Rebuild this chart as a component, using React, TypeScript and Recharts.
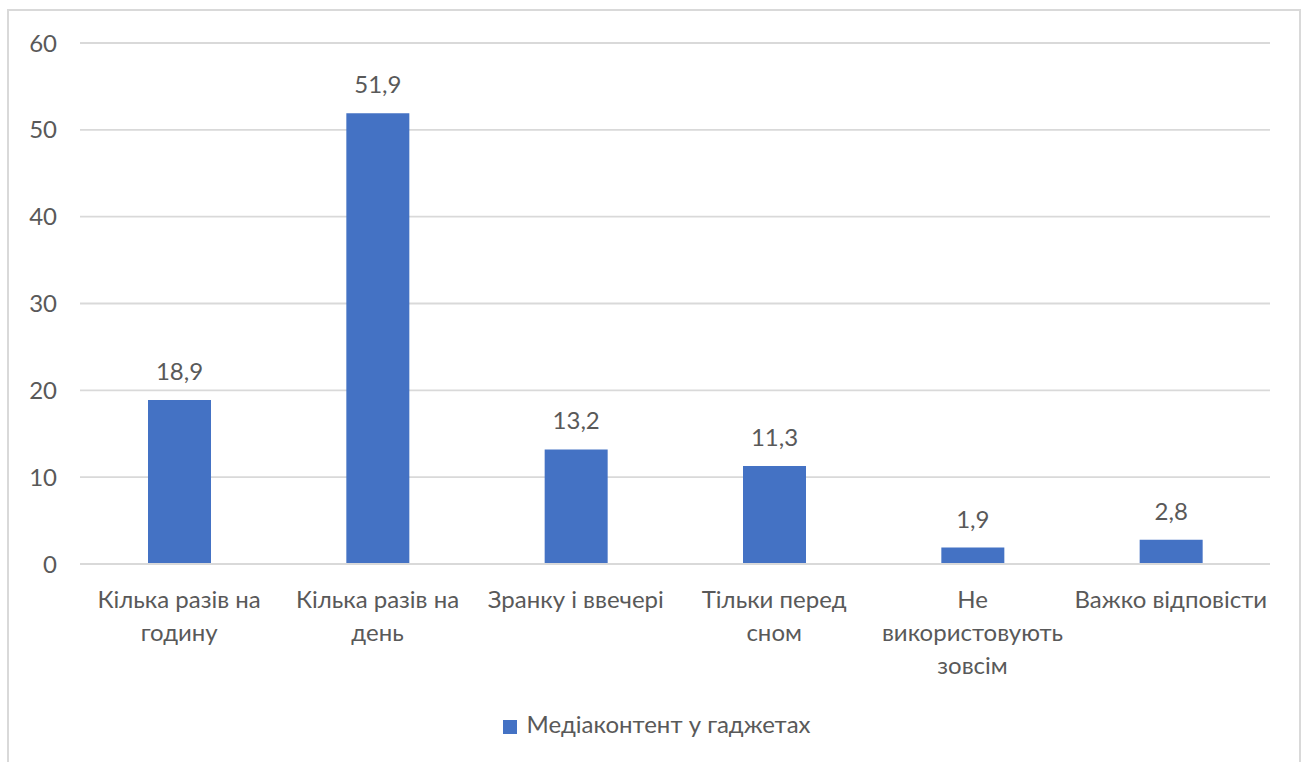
import React from 'react';
import { BarChart, Bar, XAxis, YAxis, CartesianGrid, Legend, LabelList } from 'recharts';

const categories = [
  'Кілька разів на\nгодину',
  'Кілька разів на\nдень',
  'Зранку і ввечері',
  'Тільки перед\nсном',
  'Не\nвикористовують\nзовсім',
  'Важко відповісти',
];
const values = [18.9, 51.9, 13.2, 11.3, 1.9, 2.8];
const yTicks = [0, 10, 20, 30, 40, 50, 60];
const seriesName = 'Медіаконтент у гаджетах';

const data = categories.map((c, i) => ({ name: c, value: values[i] }));

const FONT = 'Lato, "Open Sans", sans-serif';
const TEXT = '#595959';
const SIZE = 24;

const YTick = (props: any) => {
  const { x, y, payload } = props;
  return (
    <text x={x - 3} y={y} dy={8.5} textAnchor="end" fill={TEXT} fontSize={SIZE} fontFamily={FONT}>
      {payload.value}
    </text>
  );
};

const XTick = (props: any) => {
  const { x, y, payload } = props;
  const lines = String(payload.value).split('\n');
  return (
    <text x={x} y={y} textAnchor="middle" fill={TEXT} fontSize={SIZE} fontFamily={FONT}>
      {lines.map((l, i) => (
        <tspan key={i} x={x} dy={i === 0 ? 36 : 33}>
          {l}
        </tspan>
      ))}
    </text>
  );
};

export default function App() {
  return (
    <div style={{ position: 'absolute', left: 0, top: 0, width: 1304, height: 762, background: '#fff' }}>
      <div
        style={{
          position: 'absolute',
          left: 7,
          top: 9,
          width: 1294,
          height: 770,
          border: '2px solid #d9d9d9',
          boxSizing: 'border-box',
        }}
      />
      <div style={{ position: 'absolute', left: 0, top: 0 }}>
        <BarChart
          width={1304}
          height={762}
          data={data}
          margin={{ top: 43, right: 34, left: 0, bottom: 0 }}
          barCategoryGap={0}
        >
          <CartesianGrid vertical={false} stroke="#d9d9d9" strokeWidth={1.8} />
          <YAxis
            width={80}
            domain={[0, 60]}
            ticks={yTicks}
            axisLine={false}
            tickLine={false}
            tickSize={0}
            tickMargin={20}
            tick={<YTick />}
          />
          <XAxis
            dataKey="name"
            height={169}
            interval={0}
            axisLine={{ stroke: '#d9d9d9', strokeWidth: 1.8 }}
            tickLine={false}
            tick={<XTick />}
          />
          <Legend
            verticalAlign="bottom"
            align="center"
            iconType="square"
            iconSize={14}
            wrapperStyle={{ bottom: 24, left: 27, fontFamily: FONT, fontSize: SIZE }}
            formatter={(v: string) => <span style={{ color: TEXT, paddingLeft: 5 }}>{v}</span>}
          />
          <Bar dataKey="value" name={seriesName} fill="#4472c4" barSize={63} isAnimationActive={false}>
            <LabelList
              dataKey="value"
              position="top"
              offset={20}
              fill={TEXT}
              fontSize={SIZE}
              fontFamily={FONT}
              formatter={(v: any) => String(v).replace('.', ',')}
            />
          </Bar>
        </BarChart>
      </div>
    </div>
  );
}
